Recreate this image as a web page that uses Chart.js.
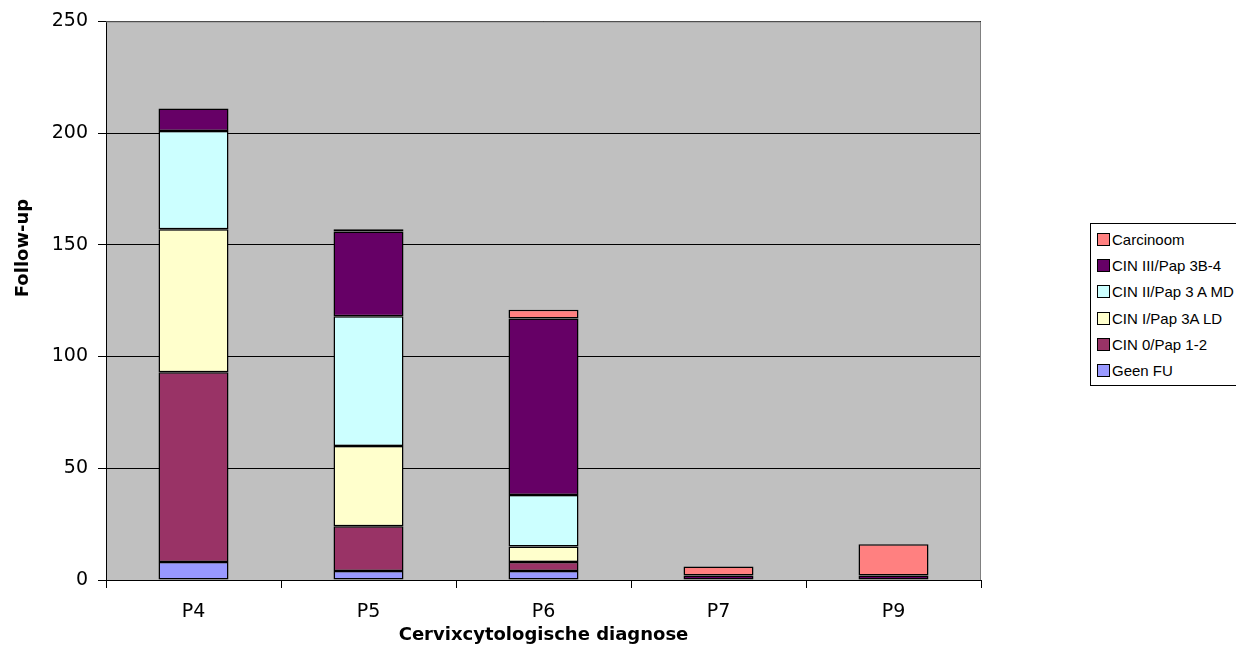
<!DOCTYPE html>
<html>
<head>
<meta charset="utf-8">
<script src="https://cdn.jsdelivr.net/npm/chart.js@4/dist/chart.umd.min.js"></script>
<style>
  html, body { margin: 0; padding: 0; background: #fff; overflow: hidden; }
  #wrap { position: relative; width: 1236px; height: 670px; }
  #legend {
    position: absolute; left: 1090px; top: 223px; width: 170px; height: 163px;
    border: 1px solid #000; background: #fff; box-sizing: border-box;
    font-family: "Liberation Sans", Arial, sans-serif; font-size: 15px; color: #000;
    padding-top: 2px;
  }
  #legend .item { display: flex; align-items: center; height: 26.3px; padding-left: 6px; }
  #legend .sw { width: 11px; height: 11px; border: 1px solid #000; margin-right: 2px; }
</style>
</head>
<body>
<div id="wrap">
  <canvas id="chart" width="1236" height="670"></canvas>
  <div id="legend"></div>
</div>
<script>
const categories = ["P4", "P5", "P6", "P7", "P9"];
const seriesNames = ["Geen FU", "CIN 0/Pap 1-2", "CIN I/Pap 3A LD", "CIN II/Pap 3 A MD", "CIN III/Pap 3B-4", "Carcinoom"];
const seriesColors = ["#9999FF", "#993366", "#FFFFCC", "#CCFFFF", "#660066", "#FF8080"];

const geenFU = [8, 4, 4, 0, 0];
const cin0 = [85, 20, 4, 0, 0];
const cin1 = [64, 36, 7, 0, 0];
const cin2 = [44, 58, 23, 0, 0];
const cin3 = [10, 38, 79, 2, 2];
const carcinoom = [0, 1, 4, 4, 14];

const yTicks = [0, 50, 100, 150, 200, 250];

const seriesValues = [geenFU, cin0, cin1, cin2, cin3, carcinoom];

// plot area background + y axis title
const plotBackground = {
  id: "plotBackground",
  beforeDraw(chart) {
    const { ctx, chartArea } = chart;
    ctx.save();
    ctx.fillStyle = "#C0C0C0";
    ctx.fillRect(chartArea.left, chartArea.top, chartArea.right - chartArea.left, chartArea.bottom - chartArea.top);
    ctx.restore();
  },
  afterDraw(chart) {
    const { ctx, chartArea } = chart;
    ctx.save();
    ctx.strokeStyle = "#808080";
    ctx.lineWidth = 1;
    ctx.beginPath();
    ctx.moveTo(chartArea.left, chartArea.top + 0.5);
    ctx.lineTo(chartArea.right - 0.5, chartArea.top + 0.5);
    ctx.lineTo(chartArea.right - 0.5, chartArea.bottom);
    ctx.stroke();
    ctx.translate(23, 248);
    ctx.rotate(-Math.PI / 2);
    ctx.fillStyle = "#000";
    ctx.font = "bold 18px 'DejaVu Sans', Verdana, sans-serif";
    ctx.textAlign = "center";
    ctx.textBaseline = "middle";
    ctx.fillText("Follow-up", 0, 0);
    ctx.restore();
  },
};

const datasets = seriesNames.map((name, i) => ({
  label: name,
  data: seriesValues[i],
  backgroundColor: seriesColors[i],
  borderColor: "#000",
  borderWidth: 1.5,
  borderSkipped: false,
  barPercentage: 0.4,
  categoryPercentage: 1.0,
}));

const chart = new Chart(document.getElementById("chart"), {
  type: "bar",
  data: { labels: categories, datasets: datasets },
  options: {
    responsive: false,
    animation: false,
    layout: { padding: { top: 20, right: 255, left: 0, bottom: 0 } },
    plugins: {
      legend: { display: false },
      tooltip: { enabled: false },
    },
    scales: {
      x: {
        stacked: true,
        afterFit: (scale) => { scale.height = 90; },
        grid: { drawOnChartArea: false, color: "#000", tickLength: 8, offset: true },
        border: { color: "#000", width: 1 },
        ticks: { color: "#000", font: { family: "'DejaVu Sans', Verdana, sans-serif", size: 19 }, padding: 13 },
        title: {
          display: true,
          text: "Cervixcytologische diagnose",
          color: "#000",
          font: { family: "'DejaVu Sans', Verdana, sans-serif", size: 18, weight: "bold" },
          padding: { top: 0, bottom: 24 },
        },
      },
      y: {
        stacked: true,
        min: 0,
        max: 250,
        afterFit: (scale) => { scale.width = 106; },
        afterBuildTicks: (scale) => { scale.ticks = yTicks.map((v) => ({ value: v })); },
        grid: { color: "#000", tickLength: 8 },
        border: { color: "#000", width: 1 },
        ticks: { color: "#000", font: { family: "'DejaVu Sans', Verdana, sans-serif", size: 19 }, padding: 10 },
      },
    },
  },
  plugins: [plotBackground],
});

// legend, top entry is the last series like the original
const legendBox = document.getElementById("legend");
for (let i = seriesNames.length - 1; i >= 0; i--) {
  const item = document.createElement("div");
  item.className = "item";
  item.innerHTML = `<span class="sw" style="background:${seriesColors[i]}"></span><span>${seriesNames[i]}</span>`;
  legendBox.appendChild(item);
}
</script>
</body>
</html>
